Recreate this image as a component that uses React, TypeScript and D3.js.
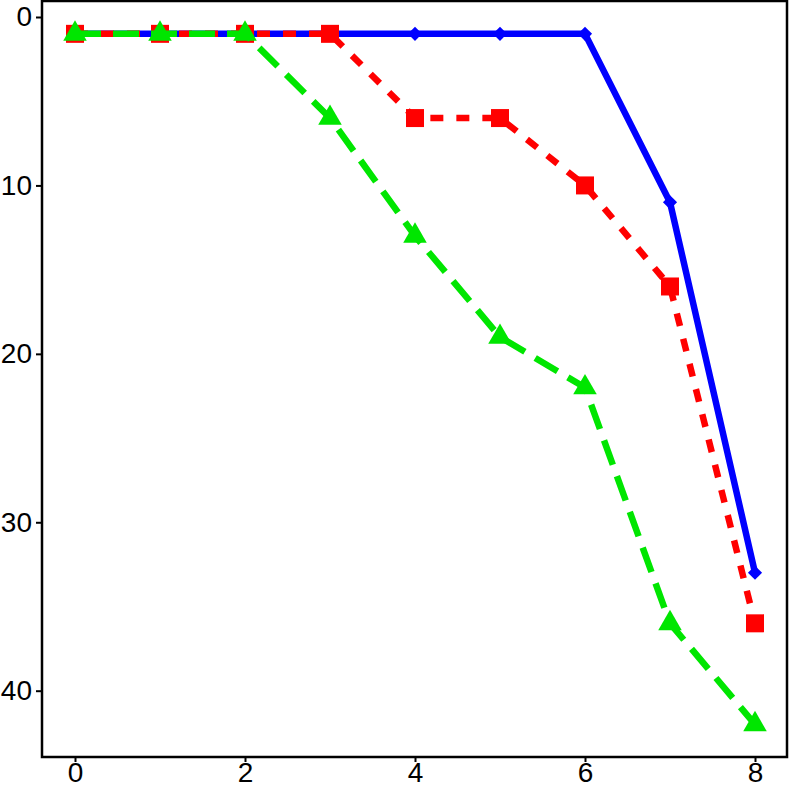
import React, { useRef, useEffect } from 'react';
import * as d3 from 'd3';

const xs = [0, 1, 2, 3, 4, 5, 6, 7, 8];
const blue = [1, 1, 1, 1, 1, 1, 1, 11, 33];
const red = [1, 1, 1, 1, 6, 6, 10, 16, 36];
const green = [1, 1, 1, 6, 13, 19, 22, 36, 42];
const xTicks = [0, 2, 4, 6, 8];
const yTicks = [0, 10, 20, 30, 40];

const App: React.FC = () => {
  const svgRef = useRef<SVGSVGElement | null>(null);

  useEffect(() => {
    if (!svgRef.current) return;
    const W = 789;
    const H = 789;
    const frame = { left: 42, top: 1, right: 787, bottom: 757 };

    const svg = d3.select(svgRef.current);
    svg.selectAll('*').remove();
    svg.attr('width', W).attr('height', H).style('background', '#fff');

    const x = d3.scaleLinear().domain([0, 8]).range([75, 755]);
    const y = d3.scaleLinear().domain([0, 40]).range([17, 690.7]);

    // 축
    const font = '"Liberation Sans", Arial, Helvetica, sans-serif';
    const xAxis = d3.axisBottom(x).tickValues(xTicks).tickSize(5).tickPadding(0).tickFormat(d3.format('d'));
    const yAxis = d3.axisLeft(y).tickValues(yTicks).tickSize(6).tickPadding(4).tickFormat(d3.format('d'));

    const xg = svg.append('g').attr('transform', `translate(0,${frame.bottom})`).call(xAxis);
    const yg = svg.append('g').attr('transform', `translate(${frame.left},0)`).call(yAxis);
    [xg, yg].forEach((g) => {
      g.select('.domain').remove();
      g.selectAll('line').attr('stroke', '#000').attr('stroke-width', 2);
      g.selectAll('text').attr('fill', '#000').style('font-family', font).style('font-size', '28px');
    });

    // 테두리
    svg
      .append('rect')
      .attr('x', frame.left)
      .attr('y', frame.top)
      .attr('width', frame.right - frame.left)
      .attr('height', frame.bottom - frame.top)
      .attr('fill', 'none')
      .attr('stroke', '#000')
      .attr('stroke-width', 2.5);

    const series = [
      { values: blue, color: '#0000ff', dash: null, symbol: d3.symbolSquare, size: 100, rotate: 45 },
      { values: red, color: '#ff0000', dash: '13,13', symbol: d3.symbolSquare, size: 324, rotate: 0 },
      { values: green, color: '#00e600', dash: '26,12', symbol: d3.symbolTriangle, size: 240, rotate: 0 },
    ];

    const line = d3
      .line<number>()
      .x((_, i) => x(xs[i]))
      .y((d) => y(d));

    series.forEach((s) => {
      const g = svg.append('g');
      g.append('path')
        .datum(s.values)
        .attr('d', line)
        .attr('fill', 'none')
        .attr('stroke', s.color)
        .attr('stroke-width', 6.5)
        .attr('stroke-dasharray', s.dash)
        .attr('stroke-linejoin', 'round');
      g.selectAll('.pt')
        .data(s.values)
        .enter()
        .append('path')
        .attr('d', d3.symbol().type(s.symbol).size(s.size)())
        .attr('transform', (d, i) => `translate(${x(xs[i])},${y(d)}) rotate(${s.rotate})`)
        .attr('fill', s.color);
    });
  }, []);

  return <svg ref={svgRef} style={{ position: 'absolute', left: 0, top: 0 }} />;
};

export default App;
